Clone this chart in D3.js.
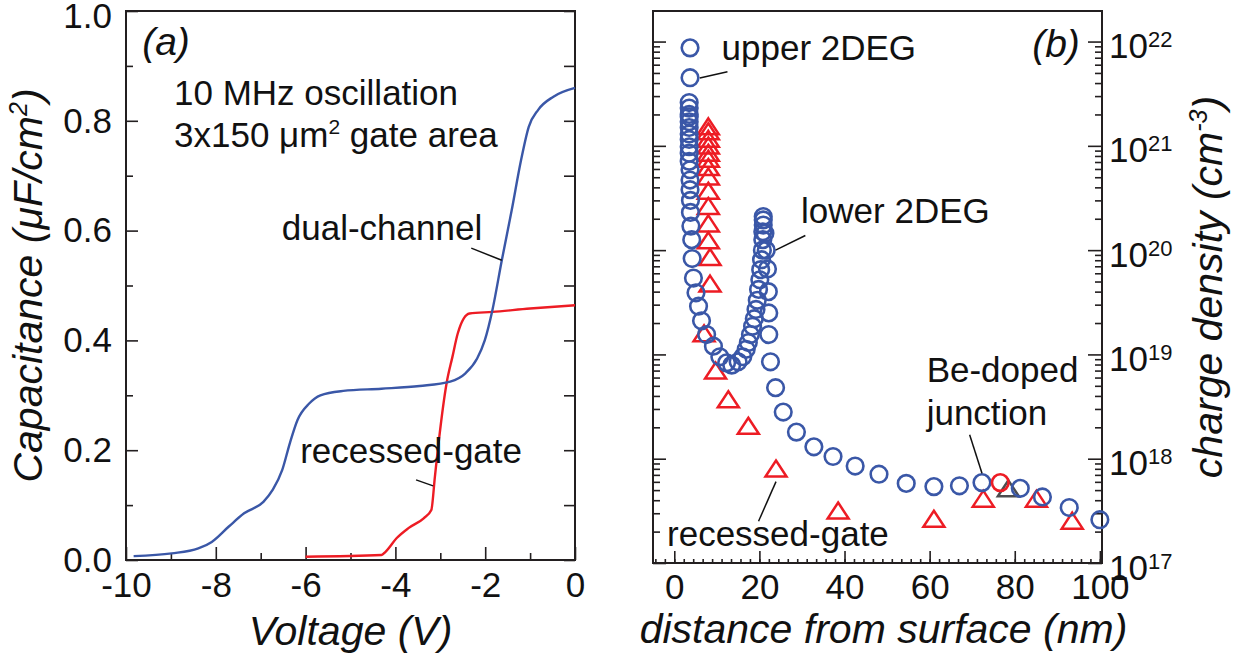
<!DOCTYPE html>
<html lang="en">
<head>
<meta charset="UTF-8">
<title>C-V curves and charge density profile</title>
<script src="https://d3js.org/d3.v7.min.js"></script>
<style>
  body { margin: 0; background: #fff; }
  svg { display: block; font-family: 'Liberation Sans', Arial, Helvetica, sans-serif; }
  .frame { fill: none; stroke: #231f20; stroke-width: 2; }
  .axis line { stroke: #231f20; stroke-width: 1.6; }
  .axis path { display: none; }
  .axis text { font-size: 35px; fill: #111; font-family: 'Liberation Sans', Arial, sans-serif; }
  .title { font-size: 41px; font-style: italic; fill: #111; }
  .note { font-size: 35px; fill: #111; }
  .leader { stroke: #111; stroke-width: 1.5; }
</style>
</head>
<body>
<svg id="chart" width="1245" height="659"></svg>
<script>
// ---- panel (a): capacitance vs voltage ----
const voltDual = [-9.83, -8.98, -8.39, -8.09, -7.71, -7.37, -6.94, -6.73, -6.52, -6.35, -6.18, -5.92, -5.67, -5.16, -4.31, -3.46, -2.78, -2.44, -2.18, -2.01, -1.84, -1.63, -1.41, -1.20, -1.03, -0.82, -0.48, 0];
const capDual  = [0.007, 0.012, 0.021, 0.033, 0.061, 0.085, 0.106, 0.128, 0.164, 0.213, 0.255, 0.285, 0.300, 0.308, 0.312, 0.317, 0.325, 0.340, 0.367, 0.400, 0.455, 0.546, 0.637, 0.729, 0.789, 0.820, 0.844, 0.860];
const voltRecessed = [-6.0, -4.31, -4.22, -3.97, -3.71, -3.37, -3.20, -3.12, -3.03, -2.86, -2.73, -2.61, -2.35, -1.84, -1.0, 0];
const capRecessed  = [0.006, 0.009, 0.015, 0.040, 0.058, 0.076, 0.091, 0.152, 0.219, 0.322, 0.370, 0.413, 0.449, 0.452, 0.458, 0.464];
const voltTicks = [-10, -8, -6, -4, -2, 0];
const capTicks = [0, 0.2, 0.4, 0.6, 0.8, 1.0];

// ---- panel (b): charge density vs depth ----
const distDual = [3.7, 3.7, 3.5, 3.5, 3.5, 3.5, 3.5, 3.5, 3.5, 3.5, 3.5, 3.5, 3.5, 3.7, 3.7, 3.7, 3.8, 3.8, 3.9, 4.1, 4.2, 4.5, 5.1, 5.7, 6.4, 7.6, 9.2, 10.7, 12.3, 13.5,
  15.0, 16.1, 16.9, 17.4, 17.9, 18.4, 18.8, 19.2, 19.5, 19.8, 20.1, 20.3, 20.5, 20.7, 20.8, 20.8, 20.9, 20.9, 20.9,
  21.3, 21.6, 21.9, 22.1, 22.2, 22.2, 22.6, 23.8, 25.6, 28.7, 32.8, 37.3, 42.5, 48.1, 54.5, 61.0, 67.0, 72.3, 81.3, 86.5, 92.8, 100.0];
const densDual = [8.7e21, 4.5e21, 2.6e21, 2.3e21, 2.0e21, 1.9e21, 1.7e21, 1.5e21, 1.3e21, 1.15e21, 9.8e20, 8.5e20, 7.1e20, 5.9e20, 4.7e20, 3.8e20, 3.0e20, 2.3e20, 1.7e20, 1.26e20, 8.3e19, 5.4e19, 3.9e19, 2.9e19, 2.1e19, 1.55e19, 1.2e19, 9.5e18, 8.3e18, 7.9e18,
  8.5e18, 9.5e18, 1.12e19, 1.3e19, 1.55e19, 1.86e19, 2.2e19, 2.7e19, 3.3e19, 4.2e19, 5.2e19, 6.5e19, 8.1e19, 1.0e20, 1.26e20, 1.5e20, 1.74e20, 1.95e20, 2.1e20,
  1.45e20, 1.0e20, 6.6e19, 4.0e19, 2.5e19, 1.55e19, 8.5e18, 4.8e18, 2.8e18, 1.8e18, 1.3e18, 1.05e18, 8.5e17, 7.1e17, 5.8e17, 5.4e17, 5.5e17, 5.9e17, 5.2e17, 4.3e17, 3.4e17, 2.6e17];
const distGate = [8.0, 8.0, 8.0, 8.0, 8.0, 8.0, 8.0, 8.0, 8.0, 8.0, 8.0, 8.0, 8.4, 8.4, 7.0, 9.7, 12.7, 17.4, 23.9, 38.5, 61.0, 72.6, 85.1, 93.5];
const densGate = [1.45e21, 1.3e21, 1.1e21, 9.5e20, 8.1e20, 7.1e20, 5.9e20, 4.8e20, 3.5e20, 2.5e20, 1.7e20, 1.17e20, 8.1e19, 4.5e19, 1.5e19, 6.6e18, 3.5e18, 1.95e18, 7.6e17, 3.0e17, 2.5e17, 3.9e17, 3.9e17, 2.4e17];
const distJunction = [76.6];
const densJunction = [5.9e17];
const distHidden = [78.5];
const densHidden = [4.9e17];
const distTicks = [0, 20, 40, 60, 80, 100];
const densExponents = [17, 18, 19, 20, 21, 22];

const blue = "#3a57a7", red = "#ed1c24";
const svg = d3.select("#chart");
svg.append("rect").attr("width", 1245).attr("height", 659).attr("fill", "#fff");

// scales
const xa = d3.scaleLinear().domain([-10, 0]).range([126, 575]);
const ya = d3.scaleLinear().domain([0, 1]).range([560, 11]);
const xb = d3.scaleLinear().domain([-5, 100.5]).range([653, 1102]);
const yb = d3.scaleLog().domain([1e17, Math.pow(10, 22.293)]).range([563, 11]);
const p10 = e => Math.pow(10, e);

// ---------- panel (a) ----------
const ga = svg.append("g");
ga.append("g").attr("class", "axis").attr("transform", `translate(0,${ya(0)})`)
  .call(d3.axisBottom(xa).tickValues(voltTicks).tickSize(-13).tickPadding(12).tickFormat(d => String(d)));
ga.append("g").attr("class", "axis").attr("transform", `translate(0,${ya(0)})`)
  .call(d3.axisBottom(xa).tickValues(d3.range(-9, 0, 2)).tickSize(-7).tickFormat(""));
const leftA = ga.append("g").attr("class", "axis").attr("transform", `translate(${xa(-10)},0)`)
  .call(d3.axisLeft(ya).tickValues(capTicks).tickSize(-12).tickPadding(14).tickFormat(d3.format(".1f")));
leftA.selectAll(".tick text").filter(d => d === 1).attr("y", 5);
ga.append("g").attr("class", "axis").attr("transform", `translate(${xa(-10)},0)`)
  .call(d3.axisLeft(ya).tickValues([0.1, 0.3, 0.5, 0.7, 0.9]).tickSize(-7).tickFormat(""));
ga.append("g").attr("class", "axis").attr("transform", `translate(${xa(0)},0)`)
  .call(d3.axisRight(ya).tickValues(d3.range(0, 11).map(i => i / 10)).tickSize(-11).tickFormat(""));
ga.append("rect").attr("class", "frame")
  .attr("x", xa(-10)).attr("y", ya(1)).attr("width", xa(0) - xa(-10)).attr("height", ya(0) - ya(1));

const lineA = d3.line().x(d => xa(d[0])).y(d => ya(d[1])).curve(d3.curveMonotoneX);
ga.append("path").datum(d3.zip(voltRecessed, capRecessed))
  .attr("d", lineA).attr("fill", "none").attr("stroke", red).attr("stroke-width", 2.4);
ga.append("path").datum(d3.zip(voltDual, capDual))
  .attr("d", lineA).attr("fill", "none").attr("stroke", blue).attr("stroke-width", 2.4);

ga.append("text").attr("class", "title").attr("x", xa(-9.64)).attr("y", ya(0.92))
  .style("font-size", "39px").text("(a)");
ga.append("text").attr("class", "note").attr("x", xa(-8.93)).attr("y", ya(0.829)).text("10 MHz oscillation");
const area = ga.append("text").attr("class", "note").attr("x", xa(-8.93)).attr("y", ya(0.752));
area.append("tspan").text("3x150 \u03bcm");
area.append("tspan").attr("dy", -13).style("font-size", "21px").text("2");
area.append("tspan").attr("dy", 13).text(" gate area");
ga.append("text").attr("class", "note").attr("x", xa(-6.53)).attr("y", ya(0.583)).text("dual-channel");
ga.append("line").attr("class", "leader")
  .attr("x1", xa(-2.31)).attr("y1", ya(0.568)).attr("x2", xa(-1.63)).attr("y2", ya(0.546));
ga.append("text").attr("class", "note").attr("x", xa(-6.12)).attr("y", ya(0.177)).text("recessed-gate");
ga.append("line").attr("class", "leader")
  .attr("x1", xa(-3.54)).attr("y1", ya(0.146)).attr("x2", xa(-3.16)).attr("y2", ya(0.135));

ga.append("text").attr("class", "title").attr("text-anchor", "middle")
  .attr("x", (xa(-10) + xa(0)) / 2).attr("y", 645).text("Voltage (V)");
const yTitleA = ga.append("text").attr("class", "title").attr("text-anchor", "middle")
  .attr("transform", `translate(42,${(ya(0) + ya(1)) / 2}) rotate(-90)`);
yTitleA.append("tspan").text("Capacitance (\u03bcF/cm");
yTitleA.append("tspan").attr("dy", -15).style("font-size", "25px").text("2");
yTitleA.append("tspan").attr("dy", 15).text(")");

// ---------- panel (b) ----------
const gb = svg.append("g");
const dMin = yb.domain()[0], dMax = yb.domain()[1];
const majorDens = densExponents.map(p10);
const minorDens = [];
densExponents.forEach(e => {
  for (let m = 2; m <= 9; m++) { const v = m * p10(e); if (v < dMax) minorDens.push(v); }
});
const minorDist = d3.range(-2, 46).map(i => i * 20 / 9).filter(v => v > -5 && v < 100.5);

gb.append("g").attr("class", "axis").attr("transform", `translate(0,${yb(dMin)})`)
  .call(d3.axisBottom(xb).tickValues(distTicks).tickSize(-12).tickPadding(11).tickFormat(d => String(d)));
gb.append("g").attr("class", "axis").attr("transform", `translate(0,${yb(dMin)})`)
  .call(d3.axisBottom(xb).tickValues(minorDist).tickSize(-4).tickFormat(""));
gb.append("g").attr("class", "axis").attr("transform", `translate(${xb.range()[0]},0)`)
  .call(d3.axisLeft(yb).tickValues(majorDens).tickSize(-13).tickFormat(""));
gb.append("g").attr("class", "axis").attr("transform", `translate(${xb.range()[0]},0)`)
  .call(d3.axisLeft(yb).tickValues(minorDens).tickSize(-7).tickFormat(""));
const rightMajor = gb.append("g").attr("class", "axis").attr("transform", `translate(${xb.range()[1]},0)`)
  .call(d3.axisRight(yb).tickValues(majorDens).tickSize(-14).tickFormat(""));
gb.append("g").attr("class", "axis").attr("transform", `translate(${xb.range()[1]},0)`)
  .call(d3.axisRight(yb).tickValues(minorDens).tickSize(-7).tickFormat(""));
// decade labels written as 10 with a superscript exponent
rightMajor.selectAll(".tick").each(function (d) {
  const t = d3.select(this).append("text").attr("x", 7).attr("y", 16).attr("text-anchor", "start");
  t.append("tspan").text("10");
  t.append("tspan").attr("dy", -11).style("font-size", "22px").text(Math.round(Math.log10(d)));
});
gb.append("rect").attr("class", "frame")
  .attr("x", xb.range()[0]).attr("y", yb(dMax))
  .attr("width", xb.range()[1] - xb.range()[0]).attr("height", yb(dMin) - yb(dMax));

// markers: open triangles and open circles
const tri = "M0,-10.7L10.5,5.3L-10.5,5.3Z";
gb.selectAll(".hidden").data(d3.zip(distHidden, densHidden)).join("path")
  .attr("transform", d => `translate(${xb(d[0])},${yb(d[1])})`)
  .attr("d", tri).attr("fill", "none").attr("stroke", "#4d4d4f").attr("stroke-width", 2.5);
gb.selectAll(".gate").data(d3.zip(distGate, densGate)).join("path")
  .attr("transform", d => `translate(${xb(d[0])},${yb(d[1])})`)
  .attr("d", tri).attr("fill", "none").attr("stroke", red).attr("stroke-width", 2.5);
gb.selectAll(".dual").data(d3.zip(distDual, densDual)).join("circle")
  .attr("cx", d => xb(d[0])).attr("cy", d => yb(d[1])).attr("r", 8.3)
  .attr("fill", "none").attr("stroke", blue).attr("stroke-width", 2.6);
gb.selectAll(".junction").data(d3.zip(distJunction, densJunction)).join("circle")
  .attr("cx", d => xb(d[0])).attr("cy", d => yb(d[1])).attr("r", 8.3)
  .attr("fill", "none").attr("stroke", red).attr("stroke-width", 2.6);

gb.append("text").attr("class", "title").attr("text-anchor", "end")
  .attr("x", xb(95.3)).attr("y", yb(p10(21.85))).style("font-size", "39px").text("(b)");
gb.append("text").attr("class", "note").attr("x", xb(11.1)).attr("y", yb(p10(21.82))).text("upper 2DEG");
gb.append("line").attr("class", "leader")
  .attr("x1", xb(6.0)).attr("y1", yb(p10(21.65))).attr("x2", xb(12.5)).attr("y2", yb(p10(21.71)));
gb.append("text").attr("class", "note").attr("x", xb(29.8)).attr("y", yb(p10(20.26))).text("lower 2DEG");
gb.append("line").attr("class", "leader")
  .attr("x1", xb(23.8)).attr("y1", yb(p10(20.0))).attr("x2", xb(30.8)).attr("y2", yb(p10(20.14)));
gb.append("text").attr("class", "note").attr("x", xb(59.3)).attr("y", yb(p10(18.74))).text("Be-doped");
gb.append("text").attr("class", "note").attr("x", xb(59.3)).attr("y", yb(p10(18.32))).text("junction");
gb.append("line").attr("class", "leader")
  .attr("x1", xb(69.4)).attr("y1", yb(p10(18.23))).attr("x2", xb(72.3)).attr("y2", yb(p10(17.86)));
gb.append("text").attr("class", "note").attr("x", xb(-1.7)).attr("y", yb(p10(17.16))).text("recessed-gate");
gb.append("line").attr("class", "leader")
  .attr("x1", xb(19.8)).attr("y1", yb(p10(17.40))).attr("x2", xb(23.9)).attr("y2", yb(p10(17.78)));

gb.append("text").attr("class", "title").attr("text-anchor", "middle")
  .attr("x", (xb.range()[0] + xb.range()[1]) / 2 + 6).attr("y", 643).text("distance from surface (nm)");
const yTitleB = gb.append("text").attr("class", "title").attr("text-anchor", "middle")
  .attr("transform", `translate(1222,${(yb(dMin) + yb(dMax)) / 2}) rotate(-90)`);
yTitleB.append("tspan").text("charge density (cm");
yTitleB.append("tspan").attr("dy", -15).style("font-size", "25px").text("-3");
yTitleB.append("tspan").attr("dy", 15).text(")");
</script>
</body>
</html>
